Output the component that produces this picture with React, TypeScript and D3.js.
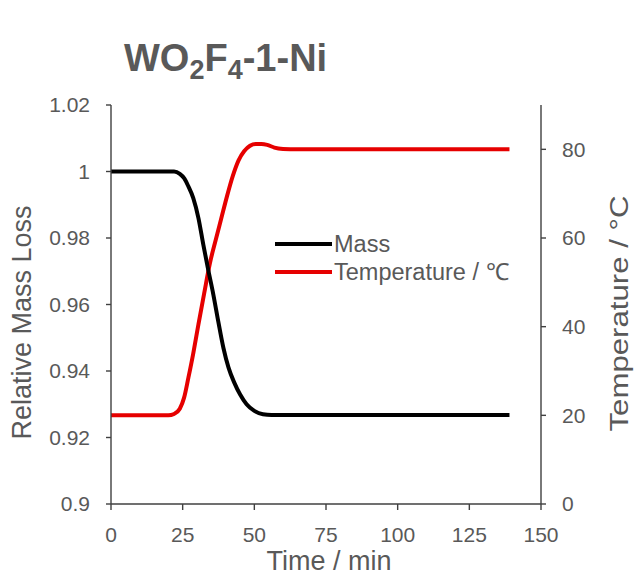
import React from "react";
import * as d3 from "d3";

const massTime = [0, 10, 20, 22, 24, 25.5, 27, 28.7, 30.5, 32.2, 33.9, 35.7, 37.4, 39.2, 41, 43, 45, 47.3, 50, 53, 56, 70, 90, 110, 130, 139];
const massValues = [1, 1, 1, 1, 0.9993, 0.998, 0.9955, 0.992, 0.986, 0.978, 0.9705, 0.963, 0.955, 0.947, 0.941, 0.9365, 0.933, 0.93, 0.928, 0.927, 0.9268, 0.9268, 0.9268, 0.9268, 0.9268, 0.9268];

const tempTime = [0, 10, 20, 22, 24, 25.5, 27, 28.7, 30.5, 32.5, 34.5, 36.5, 38.5, 40.5, 42.5, 44.5, 46.5, 48.5, 50.5, 52.5, 54.5, 57, 60, 65, 80, 100, 120, 139];
const tempValues = [20, 20, 20, 20.3, 21.5, 24, 28.5, 34, 40.5, 47.5, 54.3, 59.5, 64.5, 69.5, 74, 77.5, 79.6, 80.8, 81.2, 81.2, 81, 80.4, 80.1, 80, 80, 80, 80, 80];

const xTicks = [0, 25, 50, 75, 100, 125, 150];
const massTicks = [0.9, 0.92, 0.94, 0.96, 0.98, 1, 1.02];
const tempTicks = [0, 20, 40, 60, 80];

const seriesNames = ["Mass", "Temperature / \u2103"];
const seriesColors = ["#000000", "#e60000"];

const W = 634;
const H = 579;
const left = 111;
const right = 541;
const top = 105;
const bottom = 504;

const FONT = "'Liberation Sans', Arial, sans-serif";
const TXT = "#595959";
const AX = "#404040";

export default function App() {
  const x = d3.scaleLinear().domain([0, 150]).range([left, right]);
  const yM = d3.scaleLinear().domain([0.9, 1.02]).range([bottom, top]);
  const yT = d3.scaleLinear().domain([0, 90]).range([bottom, top]);

  const massData = massTime.map((t, i) => [t, massValues[i]] as [number, number]);
  const tempData = tempTime.map((t, i) => [t, tempValues[i]] as [number, number]);

  const massLine = d3
    .line<[number, number]>()
    .x((d) => x(d[0]))
    .y((d) => yM(d[1]))
    .curve(d3.curveMonotoneX)(massData) as string;
  const tempLine = d3
    .line<[number, number]>()
    .x((d) => x(d[0]))
    .y((d) => yT(d[1]))
    .curve(d3.curveMonotoneX)(tempData) as string;

  const fmt = (v: number) => String(+v.toFixed(2));

  return (
    <svg
      width={W}
      height={H}
      style={{ position: "absolute", left: 0, top: 0, background: "#fff" }}
      fontFamily={FONT}
    >
      <rect x={0} y={0} width={W} height={H} fill="#fff" />
      {/* title */}
      <text x={124} y={71} fontSize={38} fontWeight="bold" fill={TXT}>
        WO
        <tspan fontSize={27} dy={8}>2</tspan>
        <tspan dy={-8}>F</tspan>
        <tspan fontSize={27} dy={8}>4</tspan>
        <tspan dy={-8}>-1-Ni</tspan>
      </text>

      {/* lines */}
      <path d={tempLine} fill="none" stroke={seriesColors[1]} strokeWidth={4} strokeLinejoin="round" />
      <path d={massLine} fill="none" stroke={seriesColors[0]} strokeWidth={4} strokeLinejoin="round" />

      {/* axes */}
      <line x1={left} x2={left} y1={top} y2={bottom} stroke={AX} strokeWidth={1.4} />
      <line x1={right} x2={right} y1={top} y2={bottom} stroke={AX} strokeWidth={1.4} />
      <line x1={left} x2={right} y1={bottom} y2={bottom} stroke={AX} strokeWidth={1.4} />

      {massTicks.map((v) => (
        <g key={"m" + v}>
          <line x1={left - 5} x2={left} y1={yM(v)} y2={yM(v)} stroke={AX} strokeWidth={1.4} />
          <text x={left - 21} y={yM(v)} dy="0.35em" textAnchor="end" fontSize={21} fill={TXT}>
            {fmt(v)}
          </text>
        </g>
      ))}
      {tempTicks.map((v) => (
        <g key={"t" + v}>
          <line x1={right} x2={right + 5} y1={yT(v)} y2={yT(v)} stroke={AX} strokeWidth={1.4} />
          <text x={right + 21} y={yT(v)} dy="0.35em" textAnchor="start" fontSize={21} fill={TXT}>
            {v}
          </text>
        </g>
      ))}
      {xTicks.map((v) => (
        <g key={"x" + v}>
          <line x1={x(v)} x2={x(v)} y1={bottom} y2={bottom + 6} stroke={AX} strokeWidth={1.4} />
          <text x={x(v)} y={542} textAnchor="middle" fontSize={21} fill={TXT}>
            {v}
          </text>
        </g>
      ))}

      {/* axis titles */}
      <text x={(left + right) / 2 + 3} y={570} textAnchor="middle" fontSize={27} fill={TXT}>
        Time / min
      </text>
      <text
        transform={`translate(31, ${(top + bottom) / 2 + 18}) rotate(-90)`}
        textAnchor="middle"
        fontSize={27}
        fill={TXT}
      >
        Relative Mass Loss
      </text>
      <text
        transform={`translate(628, ${(top + bottom) / 2 + 9}) rotate(-90)`}
        textAnchor="middle"
        fontSize={25.5}
        fill={TXT}
        textLength={236}
        lengthAdjust="spacingAndGlyphs"
      >
        Temperature / °C
      </text>

      {/* legend */}
      {seriesNames.map((name, i) => (
        <g key={name}>
          <line
            x1={275}
            x2={332}
            y1={244 + i * 28}
            y2={244 + i * 28}
            stroke={seriesColors[i]}
            strokeWidth={4}
          />
          <text x={334} y={252 + i * 28} fontSize={23.5} fill={TXT}>
            {name}
          </text>
        </g>
      ))}
    </svg>
  );
}
